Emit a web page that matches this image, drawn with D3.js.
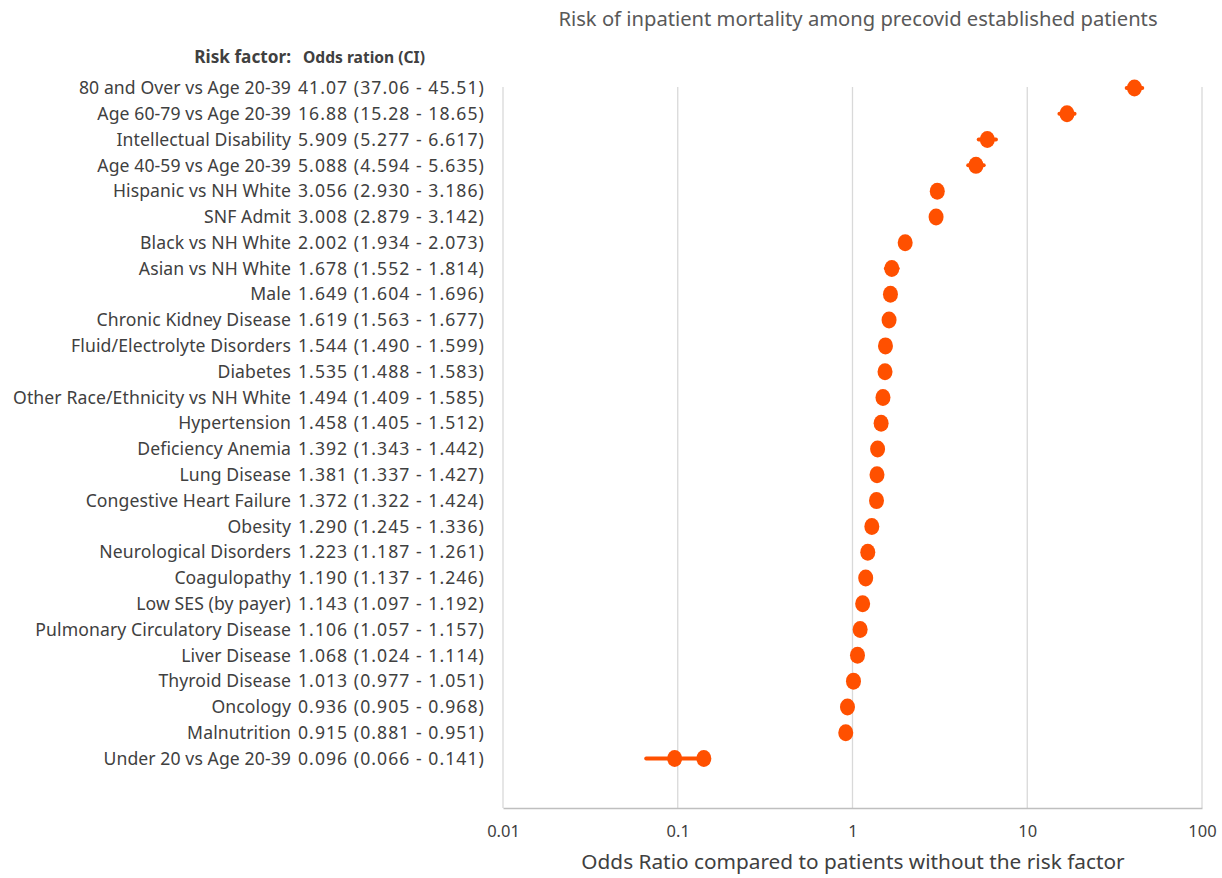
<!DOCTYPE html>
<html>
<head>
<meta charset="utf-8">
<title>Risk of inpatient mortality</title>
<script src="https://d3js.org/d3.v7.min.js"></script>
<style>
  body { margin: 0; background: #fff; }
  text { font-family: "Noto Sans", "Open Sans", sans-serif; }
</style>
</head>
<body>
<div id="plot"></div>
<script>
// data
var factors = ['80 and Over vs Age 20-39', 'Age 60-79 vs Age 20-39', 'Intellectual Disability',
  'Age 40-59 vs Age 20-39', 'Hispanic vs NH White', 'SNF Admit', 'Black vs NH White',
  'Asian vs NH White', 'Male', 'Chronic Kidney Disease', 'Fluid/Electrolyte Disorders',
  'Diabetes', 'Other Race/Ethnicity vs NH White', 'Hypertension', 'Deficiency Anemia',
  'Lung Disease', 'Congestive Heart Failure', 'Obesity', 'Neurological Disorders',
  'Coagulopathy', 'Low SES (by payer)', 'Pulmonary Circulatory Disease', 'Liver Disease',
  'Thyroid Disease', 'Oncology', 'Malnutrition', 'Under 20 vs Age 20-39']
var oddsText = ['41.07', '16.88', '5.909', '5.088', '3.056', '3.008', '2.002', '1.678', '1.649',
  '1.619', '1.544', '1.535', '1.494', '1.458', '1.392', '1.381', '1.372', '1.290', '1.223',
  '1.190', '1.143', '1.106', '1.068', '1.013', '0.936', '0.915', '0.096']
var lowText = ['37.06', '15.28', '5.277', '4.594', '2.930', '2.879', '1.934', '1.552', '1.604',
  '1.563', '1.490', '1.488', '1.409', '1.405', '1.343', '1.337', '1.322', '1.245', '1.187',
  '1.137', '1.097', '1.057', '1.024', '0.977', '0.905', '0.881', '0.066']
var highText = ['45.51', '18.65', '6.617', '5.635', '3.186', '3.142', '2.073', '1.814', '1.696',
  '1.677', '1.599', '1.583', '1.585', '1.512', '1.442', '1.427', '1.424', '1.336', '1.261',
  '1.246', '1.192', '1.157', '1.114', '1.051', '0.968', '0.951', '0.141']
// second marker drawn in the reference on the last row
var extraDots = [{row: 'Under 20 vs Age 20-39', value: 0.141}]
var xTicks = [0.01, 0.1, 1, 10, 100]

var W = 1222, H = 878
var svg = d3.select('#plot').append('svg')
  .attr('width', W).attr('height', H)

var x = d3.scaleLog().domain([0.01, 100]).range([503, 1202])
var y = d3.scalePoint().domain(factors).range([88, 758.5])
var plotTop = 87, plotBottom = 808

var orange = '#ff5000'
var textCol = '#404040'

// title
svg.append('text')
  .attr('x', 858).attr('y', 26)
  .attr('text-anchor', 'middle')
  .attr('font-size', 20.2).attr('fill', '#595959')
  .text('Risk of inpatient mortality among precovid established patients')

// grid
svg.selectAll('.grid').data(xTicks).enter().append('line')
  .attr('class', 'grid')
  .attr('x1', function(d){ return x(d) }).attr('x2', function(d){ return x(d) })
  .attr('y1', plotTop).attr('y2', plotBottom)
  .attr('stroke', '#d9d9d9').attr('stroke-width', 1.3)

var xAxis = svg.append('g')
  .attr('transform', 'translate(0,' + plotBottom + ')')
  .call(d3.axisBottom(x).tickValues(xTicks).tickSize(0).tickPadding(17)
    .tickFormat(function(d){ return String(d) }))
xAxis.select('.domain').attr('stroke', '#bfbfbf').attr('stroke-width', 1.5)
xAxis.selectAll('text').attr('font-size', 16.5).attr('fill', textCol)
  .style('font-family', '"Noto Sans", sans-serif')

svg.append('text')
  .attr('x', 853).attr('y', 869)
  .attr('text-anchor', 'middle')
  .attr('font-size', 20.8).attr('fill', textCol)
  .text('Odds Ratio compared to patients without the risk factor')

// headers
svg.append('text').attr('x', 291).attr('y', 63)
  .attr('text-anchor', 'end').attr('font-size', 17.2).attr('font-weight', 'bold')
  .attr('fill', textCol).text('Risk factor:')
svg.append('text').attr('x', 303).attr('y', 63)
  .attr('font-size', 15.6).attr('font-weight', 'bold')
  .attr('fill', textCol).text('Odds ration (CI)')

// row labels
svg.selectAll('.lab').data(factors).enter().append('text')
  .attr('class', 'lab')
  .attr('x', 291).attr('y', function(d){ return y(d) })
  .attr('dy', '0.35em').attr('text-anchor', 'end')
  .attr('font-size', 17.6).attr('letter-spacing', 0.1).attr('fill', textCol)
  .text(function(d){ return d })

svg.selectAll('.ci').data(factors).enter().append('text')
  .attr('class', 'ci')
  .attr('x', 298).attr('y', function(d){ return y(d) })
  .attr('dy', '0.35em')
  .attr('font-size', 17.6).attr('letter-spacing', 1.05).attr('fill', textCol)
  .text(function(d, i){ return oddsText[i] + ' (' + lowText[i] + ' - ' + highText[i] + ')' })

// error bars
svg.selectAll('.err').data(factors).enter().append('line')
  .attr('class', 'err')
  .attr('x1', function(d, i){ return x(+lowText[i]) })
  .attr('x2', function(d, i){ return x(+highText[i]) })
  .attr('y1', function(d){ return y(d) }).attr('y2', function(d){ return y(d) })
  .attr('stroke', orange).attr('stroke-width', 4).attr('stroke-linecap', 'round')

svg.selectAll('.dot').data(factors).enter().append('ellipse')
  .attr('class', 'dot')
  .attr('cx', function(d, i){ return x(+oddsText[i]) })
  .attr('cy', function(d){ return y(d) })
  .attr('rx', 7.5).attr('ry', 8.5)
  .attr('fill', orange)

svg.selectAll('.xdot').data(extraDots).enter().append('ellipse')
  .attr('class', 'xdot')
  .attr('cx', function(d){ return x(d.value) })
  .attr('cy', function(d){ return y(d.row) })
  .attr('rx', 7.5).attr('ry', 8.5)
  .attr('fill', orange)
</script>
</body>
</html>
